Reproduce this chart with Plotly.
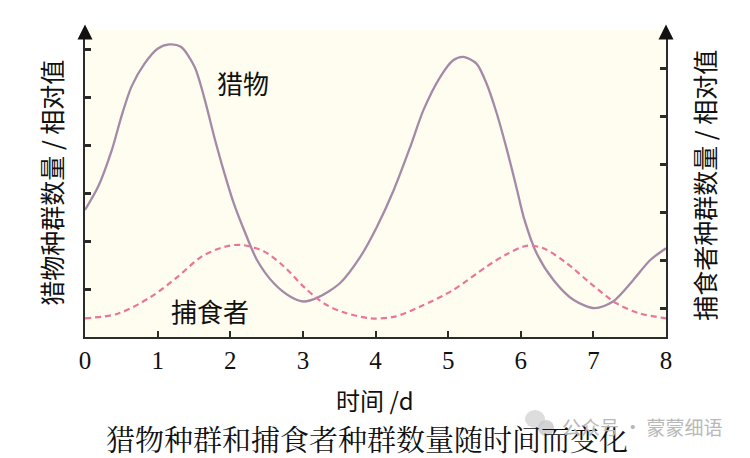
import plotly.graph_objects as go

# time (d) and prey relative abundance
prey_t = [0, 0.18, 0.37, 0.5, 0.64, 0.82, 1.0, 1.16, 1.32, 1.51, 1.64, 1.78, 1.92, 2.05, 2.19, 2.37,
          2.6, 2.83, 3.01, 3.2, 3.51, 3.79, 4.02, 4.25, 4.48, 4.66, 4.89, 5.07, 5.21, 5.39, 5.53,
          5.67, 5.81, 5.95, 6.04, 6.22, 6.45, 6.73, 7.02, 7.27, 7.55, 7.78, 8.0]
prey_v = [2.65, 3.13, 3.9, 4.59, 5.22, 5.7, 6.01, 6.1, 6.05, 5.63, 5.0, 4.17, 3.41, 2.78, 2.23, 1.6,
          1.12, 0.84, 0.74, 0.82, 1.12, 1.67, 2.3, 3.06, 3.97, 4.73, 5.42, 5.77, 5.84, 5.7, 5.28,
          4.66, 3.9, 3.06, 2.5, 1.74, 1.19, 0.77, 0.6, 0.74, 1.19, 1.6, 1.85]

# predator relative abundance
pred_t = [0, 0.46, 0.91, 1.28, 1.6, 1.92, 2.15, 2.47, 2.74, 3.01, 3.29, 3.55, 3.93, 4.25, 4.61,
          5.07, 5.53, 5.8, 6.08, 6.31, 6.63, 6.96, 7.32, 7.64, 8.0]
pred_v = [0.39, 0.49, 0.84, 1.26, 1.67, 1.88, 1.92, 1.78, 1.47, 1.05, 0.7, 0.52, 0.39, 0.42, 0.63,
          0.98, 1.47, 1.72, 1.9, 1.85, 1.54, 1.12, 0.7, 0.49, 0.39]

x_ticks = [0, 1, 2, 3, 4, 5, 6, 7, 8]
left_ticks = [1, 2, 3, 4, 5, 6]
right_ticks = [0.6, 1.6, 2.6, 3.6, 4.6, 5.6]

CJK = "Noto Sans CJK SC, sans-serif"
AX = "#2b2b2b"

fig = go.Figure()
fig.add_trace(go.Scatter(x=prey_t, y=prey_v, mode="lines",
                         line=dict(color="#a48aa6", width=2.3, shape="spline", smoothing=0.8),
                         name="猎物", yaxis="y"))
fig.add_trace(go.Scatter(x=pred_t, y=pred_v, mode="lines",
                         line=dict(color="#e8769a", width=2.2, dash="6px,4px", shape="spline", smoothing=0.9),
                         name="捕食者", yaxis="y2"))

fig.update_layout(
    width=742, height=450,
    margin=dict(l=77, r=84, t=22, b=121),
    paper_bgcolor="white",
    plot_bgcolor="#fffdef",
    showlegend=False,
    xaxis=dict(range=[0, 8], tickvals=x_ticks, ticks="inside", ticklen=6, tickwidth=2, tickcolor=AX,
               showline=True, linecolor=AX, linewidth=2, showgrid=False, zeroline=False,
               tickfont=dict(family="Liberation Serif, Times New Roman, serif", size=25, color="#111")),
    yaxis=dict(range=[0, 6.4], tickvals=left_ticks, ticks="inside", ticklen=6, tickwidth=2.5, tickcolor=AX,
               showticklabels=False, showline=True, linecolor=AX, linewidth=2, showgrid=False, zeroline=False),
    yaxis2=dict(range=[0, 6.4], tickvals=right_ticks, ticks="inside", ticklen=6, tickwidth=2.5, tickcolor=AX,
                showticklabels=False, showline=True, linecolor=AX, linewidth=2, showgrid=False, zeroline=False,
                overlaying="y", side="right"),
)

annotations = [
    dict(text="猎物种群数量 / 相对值", xref="paper", yref="paper", x=-0.060, y=0.503, textangle=-90,
         xanchor="center", yanchor="middle",
         showarrow=False, font=dict(family=CJK, size=25, color="#111")),
    dict(text="捕食者种群数量 / 相对值", xref="paper", yref="paper", x=1.065, y=0.495, textangle=-90,
         xanchor="center", yanchor="middle",
         showarrow=False, font=dict(family=CJK, size=25, color="#111")),
    dict(text="猎物", x=2.17, y=5.31, xref="x", yref="y", showarrow=False,
         font=dict(family=CJK, size=26, color="#111")),
    dict(text="捕食者", x=1.72, y=0.56, xref="x", yref="y", showarrow=False,
         font=dict(family=CJK, size=26, color="#111")),
    dict(text="时间 /d", xref="paper", yref="paper", x=0.499, y=-0.205, xanchor="center", yanchor="middle",
         showarrow=False, font=dict(family=CJK, size=24, color="#111")),
    dict(text="猎物种群和捕食者种群数量随时间而变化", xref="paper", yref="paper", x=0.486, y=-0.329,
         xanchor="center", yanchor="middle",
         showarrow=False, font=dict(family="Noto Serif CJK SC, " + CJK, size=29, color="#111")),
    dict(text="公众号 · 蒙蒙细语", xref="paper", yref="paper", x=1.1015, y=-0.29, xanchor="right", yanchor="middle",
         showarrow=False, font=dict(family=CJK, size=19, color="#b8b8b8")),
]
for xp in [0, 1]:
    annotations.append(dict(text="", xref="paper", yref="paper", x=xp, y=1.018, ax=0, ay=14,
                            showarrow=True, arrowhead=2, arrowsize=1.5, arrowwidth=2, arrowcolor="#111"))
fig.update_layout(annotations=annotations)

# faint WeChat-style icon behind the watermark
fig.add_shape(type="circle", xref="paper", yref="paper", x0=(525 - 8 - 77) / 581, x1=(545 - 8 - 77) / 581,
              y0=(329 - (428 - 8)) / 307, y1=(329 - (410 - 8)) / 307,
              fillcolor="#d4d4d4", line=dict(width=0), opacity=0.8)
fig.add_shape(type="circle", xref="paper", yref="paper", x0=(538 - 8 - 77) / 581, x1=(554 - 8 - 77) / 581,
              y0=(329 - (436 - 8)) / 307, y1=(329 - (420 - 8)) / 307,
              fillcolor="#c8c8c8", line=dict(width=0), opacity=0.8)

fig.write_html("out.html")
